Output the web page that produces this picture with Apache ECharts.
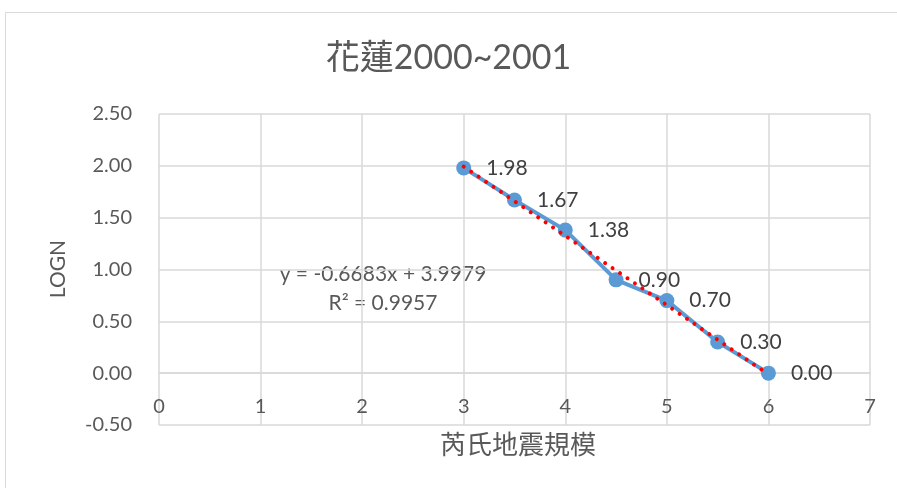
<!DOCTYPE html>
<html><head><meta charset="utf-8">
<script src="https://cdn.jsdelivr.net/npm/echarts@6/dist/echarts.min.js"></script>
<style>html,body{margin:0;padding:0;background:#fff}#c{width:897px;height:488px}</style>
</head><body><div id="c"></div>
<script>
var magnitudes = [3, 3.5, 4, 4.5, 5, 5.5, 6];
var logN = [1.98, 1.67, 1.38, 0.90, 0.70, 0.30, 0.00];
var trendX = [3, 6];
var trendY = [1.993, -0.012];
var yTicks = [-0.5, 0, 0.5, 1, 1.5, 2, 2.5];
var titleText = '花蓮2000~2001';
var xName = '芮氏地震規模';
var yName = 'LOGN';
var eqLines = ['y = -0.6683x + 3.9979', 'R² = 0.9957'];

var font = 'Lato, "Noto Sans CJK TC", sans-serif';
var gridTop = 114, gridBottom = 63, chartH = 488;
var plotH = chartH - gridTop - gridBottom;
var yMin = yTicks[0], yMax = yTicks[yTicks.length - 1];
// shift the x axis up so it sits on y = 0
var xAxisOffset = -plotH * (0 - yMin) / (yMax - yMin);

var chart = echarts.init(document.getElementById('c'), null, {renderer: 'canvas'});
chart.setOption({
  animation: false,
  backgroundColor: '#fff',
  title: {text: titleText, left: 'center', top: 36,
    textStyle: {fontFamily: font, fontSize: 34, fontWeight: 'normal', color: '#595959'}},
  grid: {left: 159, right: 27, top: gridTop, bottom: gridBottom},
  xAxis: {type: 'value', min: 0, max: 7, interval: 1, position: 'bottom', offset: xAxisOffset,
    axisLine: {onZero: false, lineStyle: {color: '#d9d9d9', width: 1.5}},
    axisTick: {show: false},
    splitLine: {show: true, lineStyle: {color: '#d9d9d9', width: 1.5}},
    axisLabel: {margin: 23, fontFamily: font, fontSize: 20, color: '#595959'}},
  yAxis: {type: 'value', min: yMin, max: yMax, interval: 0.5,
    axisLine: {show: false, onZero: false}, axisTick: {show: false},
    splitLine: {show: true, lineStyle: {color: '#d9d9d9', width: 1.5}},
    axisLabel: {margin: 27, fontFamily: font, fontSize: 20, color: '#595959',
      formatter: function (v) { return v.toFixed(2); }}},
  graphic: [
    {type: 'rect', shape: {x: 5.5, y: 12.5, width: 1000, height: 1000}, silent: true, z: -10,
      style: {fill: 'none', stroke: '#d9d9d9', lineWidth: 1}},
    {type: 'text', x: 58, y: 269, rotation: Math.PI / 2,
      style: {text: yName, fontFamily: font, fontSize: 21, fill: '#595959', align: 'center', verticalAlign: 'middle'}},
    {type: 'text', x: 518, y: 446, style: {text: xName, fontFamily: font, fontSize: 26, fill: '#595959', align: 'center', verticalAlign: 'middle'}},
    {type: 'text', x: 383, y: 274, style: {text: eqLines[0], fontFamily: font, fontSize: 21, fill: '#595959', align: 'center', verticalAlign: 'middle'}},
    {type: 'text', x: 383, y: 303, style: {text: eqLines[1], fontFamily: font, fontSize: 21, fill: '#595959', align: 'center', verticalAlign: 'middle'}}
  ],
  series: [
    {type: 'line', data: magnitudes.map(function (m, i) { return [m, logN[i]]; }),
      symbol: 'circle', symbolSize: 15, z: 2,
      itemStyle: {color: '#5b9bd5'}, lineStyle: {color: '#5b9bd5', width: 4},
      label: {show: true, position: 'right', distance: 15, fontFamily: font, fontSize: 21, color: '#404040',
        formatter: function (p) { return p.value[1].toFixed(2); }}},
    {type: 'line', data: trendX.map(function (x, i) { return [x, trendY[i]]; }),
      symbol: 'none', z: 3, silent: true,
      lineStyle: {color: '#ff0000', width: 4, type: [0.01, 9], cap: 'round'}}
  ]
});
</script></body></html>
